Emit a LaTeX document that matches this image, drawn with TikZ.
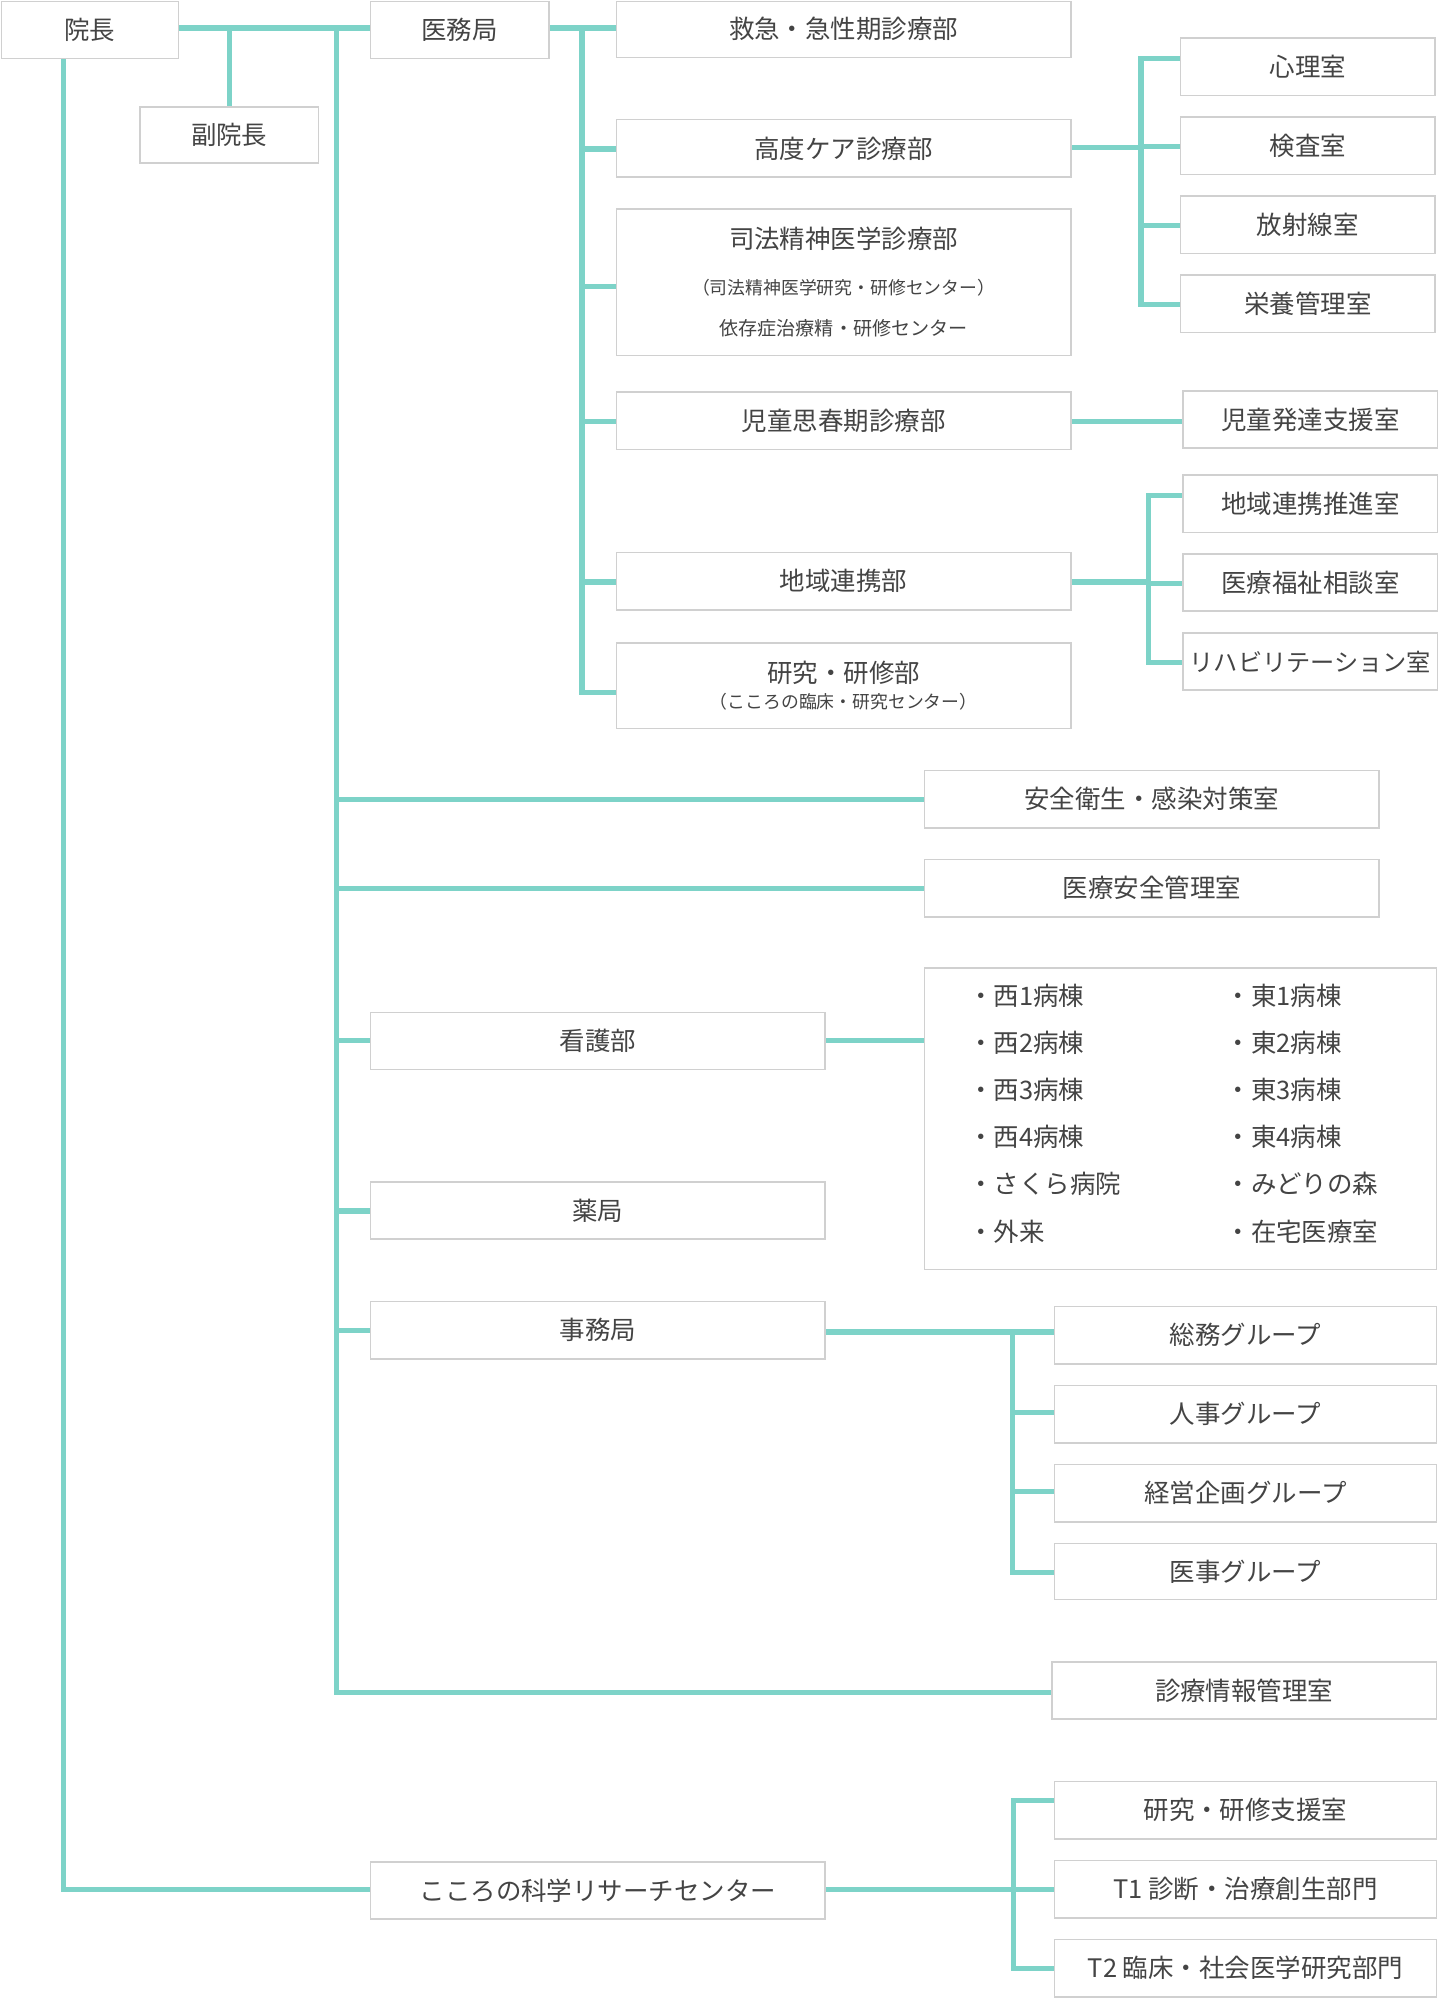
\documentclass[tikz,border=0pt]{standalone}
\usepackage{fontspec}
\setmainfont{Noto Sans CJK JP}
\definecolor{teal1}{HTML}{7DD3C8}
\definecolor{bord}{HTML}{D0D0D0}
\definecolor{txt}{HTML}{444444}
\tikzset{ln/.style={draw=teal1,line width=2pt},
 bxs/.style={draw=bord,line width=0.6pt,fill=white,inner sep=0pt,text=txt,font=\fontsize{10}{12}\selectfont,align=center}}
\newcommand\bx[6]{\node[bxs,minimum width={(#4-#2)*0.5pt},minimum height={(#5-#3)*0.5pt}] (#1) at ({(#2+#4)/2},{(#3+#5)/2}) {#6};}
\begin{document}
\begin{tikzpicture}[x=0.5pt,y=-0.5pt]
\useasboundingbox (0,0) rectangle (1131,1569);
% lines
\draw[ln] (140,22)--(291,22); \draw[ln] (180,22)--(180,84);
\draw[ln] (264,22)--(264,1329)--(826,1329);
\foreach \y/\xe in {628/726,698/726,817/291,951/291,1045/291}{\draw[ln] (264,\y)--(\xe,\y);}
\draw[ln] (50,46)--(50,1484)--(291,1484);
\draw[ln] (431,22)--(484,22); \draw[ln] (457,22)--(457,544)--(484,544);
\foreach \y in {117,225,331,457}{\draw[ln] (457,\y)--(484,\y);}
\draw[ln] (841,116)--(896,116); \draw[ln] (927,46)--(896,46)--(896,239)--(927,239);
\foreach \y in {115,177}{\draw[ln] (896,\y)--(927,\y);}
\draw[ln] (841,331)--(929,331);
\draw[ln] (841,457)--(902,457); \draw[ln] (929,389)--(902,389)--(902,520)--(929,520);
\draw[ln] (902,458)--(929,458);
\draw[ln] (648,817)--(726,817);
\draw[ln] (648,1046)--(828,1046); \draw[ln] (795,1046)--(795,1235)--(828,1235);
\foreach \y in {1109,1171}{\draw[ln] (795,\y)--(828,\y);}
\draw[ln] (648,1484)--(828,1484); \draw[ln] (828,1414)--(796,1414)--(796,1546)--(828,1546);
% boxes
\bx{a}{1}{1}{140}{46}{院長}
\bx{b}{110}{84}{250}{128}{副院長}
\bx{c}{291}{1}{431}{46}{医務局}
\bx{d1}{484}{1}{841}{45}{救急・急性期診療部}
\bx{d2}{484}{94}{841}{139}{高度ケア診療部}
\bx{d3}{484}{164}{841}{279}{司法精神医学診療部\\[6pt]{\fontsize{7}{9}\selectfont（司法精神医学研究・研修センター）}\\[4pt]{\fontsize{7.5}{9}\selectfont 依存症治療精・研修センター}}
\bx{d4}{484}{308}{841}{353}{児童思春期診療部}
\bx{d5}{484}{434}{841}{479}{地域連携部}
\bx{d6}{484}{505}{841}{572}{研究・研修部\\[-2pt]{\fontsize{7}{9}\selectfont（こころの臨床・研究センター）}}
\bx{e1}{927}{30}{1127}{75}{心理室}
\bx{e2}{927}{92}{1127}{137}{検査室}
\bx{e3}{927}{154}{1127}{199}{放射線室}
\bx{e4}{927}{216}{1127}{261}{栄養管理室}
\bx{f1}{929}{307}{1129}{352}{児童発達支援室}
\bx{g1}{929}{373}{1129}{418}{地域連携推進室}
\bx{g2}{929}{435}{1129}{480}{医療福祉相談室}
\bx{g3}{929}{497}{1129}{542}{{\fontsize{9.5}{11}\selectfont リハビリテーション室}}
\bx{h1}{726}{605}{1083}{650}{安全衛生・感染対策室}
\bx{h2}{726}{675}{1083}{720}{医療安全管理室}
\bx{n}{291}{795}{648}{840}{看護部}
\bx{w}{726}{760}{1128}{997}{}
\bx{p}{291}{928}{648}{973}{薬局}
\bx{j}{291}{1022}{648}{1067}{事務局}
\bx{j1}{828}{1026}{1128}{1071}{総務グループ}
\bx{j2}{828}{1088}{1128}{1133}{人事グループ}
\bx{j3}{828}{1150}{1128}{1195}{経営企画グループ}
\bx{j4}{828}{1212}{1128}{1256}{医事グループ}
\bx{k}{826}{1305}{1128}{1350}{診療情報管理室}
\bx{r}{291}{1462}{648}{1507}{こころの科学リサーチセンター}
\bx{r1}{828}{1399}{1128}{1444}{研究・研修支援室}
\bx{r2}{828}{1461}{1128}{1506}{T1 診断・治療創生部門}
\bx{r3}{828}{1523}{1128}{1568}{T2 臨床・社会医学研究部門}
% wards
\foreach \i/\l/\r in {0/西1病棟/東1病棟,1/西2病棟/東2病棟,2/西3病棟/東3病棟,3/西4病棟/東4病棟,4/さくら病院/みどりの森,5/外来/在宅医療室}{
 \node[anchor=west,text=txt,font=\fontsize{10}{12}\selectfont,inner sep=0pt] (wl\i) at (760,{782+37*\i}) {・\l};
 \node[anchor=west,text=txt,font=\fontsize{10}{12}\selectfont,inner sep=0pt] (wr\i) at (962,{782+37*\i}) {・\r};}
\end{tikzpicture}
\end{document}
